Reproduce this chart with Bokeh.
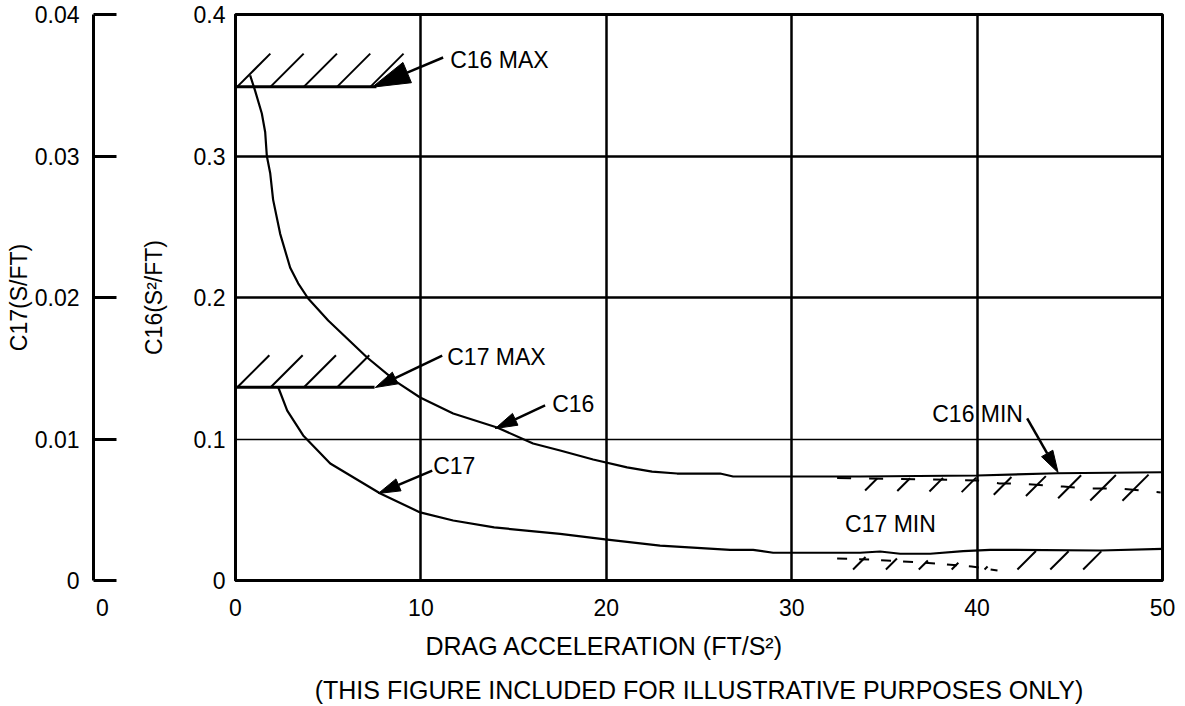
import numpy as np
from bokeh.plotting import figure
from bokeh.models import Range1d, FixedTicker, Grid, Label, Title
from bokeh.layouts import row
from bokeh.embed import file_html
from bokeh.resources import INLINE

FONT = "Liberation Sans"
FS = "23px"

# ---------------- data ----------------
x_ticks = [0, 10, 20, 30, 40, 50]
c16_ticks = [0, 0.1, 0.2, 0.3, 0.4]
c17_ticks = [0, 0.01, 0.02, 0.03, 0.04]

# C16 curve (S^2/FT) vs drag acceleration (FT/S^2)
c16_x = [0.79, 1.06, 1.42, 1.60, 1.69, 1.87, 2.03, 2.41, 2.95, 3.38, 3.92, 5.0,
         7.1, 8.72, 9.96, 11.74, 14.11, 16.05, 17.51, 19.29, 21.12, 22.47,
         23.82, 26.14, 26.84, 33.69, 40.0, 44.32, 50.0]
c16_y = [0.357, 0.346, 0.330, 0.317, 0.300, 0.288, 0.269, 0.245, 0.221, 0.210,
         0.1993, 0.1837, 0.1576, 0.140, 0.1293, 0.118, 0.1081, 0.0968, 0.0919,
         0.0855, 0.0799, 0.0770, 0.0756, 0.0756, 0.0735, 0.0735, 0.0742,
         0.0758, 0.0765]

# C17 curve (S/FT)
c17_x = [2.31, 2.79, 3.65, 5.11, 7.81, 9.96, 11.74, 13.95, 17.51, 19.94, 22.9,
         26.68, 27.92, 29.0, 33.69, 34.77, 35.85, 37.47, 39.25, 40.70, 46.64, 50.0]
c17_y = [0.01364, 0.0120, 0.01025, 0.00827, 0.00615, 0.00481, 0.00424, 0.00375,
         0.0033, 0.0029, 0.00247, 0.00217, 0.00217, 0.00196, 0.00196, 0.00205,
         0.00189, 0.00189, 0.00207, 0.00217, 0.00212, 0.00224]

# limits
c16_max_level = 0.349
c16_max_x = [0, 7.6]
c17_max_level = 0.01366
c17_max_x = [0, 7.5]

c16_min_x = [32.45, 37.47, 40.0, 41.2, 42.16, 44.64, 46.1, 47.72, 49.9]
c16_min_y = [0.0724, 0.0714, 0.0707, 0.0686, 0.0686, 0.0664, 0.0650, 0.0650, 0.0622]

c17_min_x = [32.45, 34.25, 37.8, 39.7, 41.1]
c17_min_y = [0.00155, 0.00148, 0.00120, 0.00099, 0.00071]

# ---------------- geometry / style ----------------
FRAME_W, FRAME_H = 927, 566
PX_X = 50 / FRAME_W
PX_Y16 = 0.4 / FRAME_H
PX_Y17 = 0.04 / FRAME_H
HATCH_STEP = 33.3 * PX_X


def style_axis(ax):
    ax.major_label_text_font = FONT
    ax.major_label_text_font_size = FS
    ax.major_label_text_color = "black"
    ax.axis_label_text_font = FONT
    ax.axis_label_text_font_size = FS
    ax.axis_label_text_font_style = "normal"
    ax.axis_label_text_color = "black"
    ax.minor_tick_line_color = None
    ax.minor_tick_out = 0
    ax.minor_tick_in = 0


# ---------------- left figure: C17 scale ----------------
pa = figure(width=123, height=706, x_range=Range1d(-0.3, 0.7), y_range=Range1d(0, 0.04),
            output_backend="svg", toolbar_location=None,
            min_border_left=93, min_border_right=0, min_border_top=14, min_border_bottom=126)
pa.outline_line_color = None
pa.xgrid.visible = False
pa.ygrid.visible = False
ya = pa.yaxis[0]
style_axis(ya)
ya.ticker = FixedTicker(ticks=c17_ticks)
ya.major_label_overrides = {0: "0"}
ya.axis_line_width = 3
ya.axis_line_color = "black"
ya.major_tick_line_width = 3
ya.major_tick_line_color = "black"
ya.major_tick_in = 23
ya.major_tick_out = 0
ya.major_label_standoff = 14
ya.axis_label = "C17(S/FT)"
ya.axis_label_standoff = 0
xa = pa.xaxis[0]
style_axis(xa)
xa.ticker = FixedTicker(ticks=[0])
xa.axis_line_color = None
xa.major_tick_line_color = None
xa.major_tick_out = 0
xa.major_tick_in = 0
xa.major_label_standoff = 18

# ---------------- main figure ----------------
p = figure(width=1062, height=706, x_range=Range1d(0, 50), y_range=Range1d(0, 0.4),
           output_backend="svg", toolbar_location=None,
           min_border_left=112, min_border_right=23, min_border_top=14, min_border_bottom=126)
p.extra_y_ranges = {"c17": Range1d(0, 0.04)}
p.outline_line_color = "black"
p.outline_line_width = 3

xax = p.xaxis[0]
style_axis(xax)
xax.ticker = FixedTicker(ticks=x_ticks)
xax.axis_line_width = 3
xax.major_tick_line_color = None
xax.major_tick_out = 0
xax.major_tick_in = 0
xax.major_label_standoff = 18

yax = p.yaxis[0]
style_axis(yax)
yax.ticker = FixedTicker(ticks=c16_ticks)
yax.major_label_overrides = {0: "0"}
yax.axis_line_width = 3
yax.major_tick_line_color = None
yax.major_tick_out = 0
yax.major_tick_in = 0
yax.major_label_standoff = 10
yax.axis_label = "C16(S²/FT)"
yax.axis_label_standoff = 24

p.xgrid.ticker = FixedTicker(ticks=[t for t in x_ticks if 0 < t < 50])
p.xgrid.grid_line_color = "black"
p.xgrid.grid_line_width = 2.5
p.ygrid.ticker = FixedTicker(ticks=[t for t in c16_ticks if 0.2 <= t < 0.4])
p.ygrid.grid_line_color = "black"
p.ygrid.grid_line_width = 2.5
thin = Grid(dimension=1, ticker=FixedTicker(ticks=[c16_ticks[1]]),
            grid_line_color="black", grid_line_width=1.5)
p.add_layout(thin)

# curves
p.line(c16_x, c16_y, line_color="black", line_width=2.2)
p.line(c17_x, c17_y, line_color="black", line_width=2.2, y_range_name="c17")

# MAX limit lines with hatching above
p.line(c16_max_x, [c16_max_level] * 2, line_color="black", line_width=3)
p.line(c17_max_x, [c17_max_level] * 2, line_color="black", line_width=3, y_range_name="c17")


def max_strokes(x_end, level, py, count, h=33):
    x0 = 0.1 + HATCH_STEP * np.arange(count)
    x0 = x0[x0 < x_end]
    return x0, np.full_like(x0, level), x0 + h * PX_X, np.full_like(x0, level + h * py)


hx0, hy0, hx1, hy1 = max_strokes(c16_max_x[1], c16_max_level, PX_Y16, 5)
p.segment(hx0, hy0, hx1, hy1, line_color="black", line_width=2)
hx0, hy0, hx1, hy1 = max_strokes(c17_max_x[1], c17_max_level, PX_Y17, 4, h=32)
p.segment(hx0, hy0, hx1, hy1, line_color="black", line_width=2, y_range_name="c17")

# MIN limit dashed lines with hatching below
p.line(c16_min_x, c16_min_y, line_color="black", line_width=2, line_dash="14 18")
p.line(c17_min_x, c17_min_y, line_color="black", line_width=2, line_dash="10 12",
       y_range_name="c17")

xb = np.arange(33.96, 48.5, 1.735)
top = np.interp(xb, c16_x, c16_y) - 2 * PX_Y16
bot = np.interp(xb, c16_min_x, c16_min_y) - 12 * PX_Y16
hpx = (top - bot) / PX_Y16
p.segment(xb, bot, xb + hpx * PX_X, top, line_color="black", line_width=2)

xb = np.arange(33.31, 46.5, 1.773)
bot = np.full_like(xb, 11 * PX_Y17)
top = np.where(xb <= c17_min_x[-1], np.interp(xb, c17_min_x, c17_min_y) + 2 * PX_Y17,
               np.interp(xb, c17_x, c17_y) - 1 * PX_Y17)
hpx = (top - bot) / PX_Y17
p.segment(xb, bot, xb + hpx * PX_X, top, line_color="black", line_width=2,
          y_range_name="c17")


# arrows (pointer lines with filled heads)
def draw_arrow(x0, y0, x1, y1, L, W):
    ax = (x1 - x0) / PX_X
    ay = (y1 - y0) / PX_Y16
    d = np.hypot(ax, ay)
    ux, uy = ax / d, ay / d
    nx, ny = -uy, ux
    bx, by = x1 - L * ux * PX_X, y1 - L * uy * PX_Y16
    c1 = (bx + nx * W / 2 * PX_X, by + ny * W / 2 * PX_Y16)
    c2 = (bx - nx * W / 2 * PX_X, by - ny * W / 2 * PX_Y16)
    p.line([x0, bx], [y0, by], line_color="black", line_width=2.5)
    p.patch([x1, c1[0], c2[0]], [y1, c1[1], c2[1]], fill_color="black", line_color="black",
            line_width=1)


draw_arrow(11.20, 0.3696, 7.37, 0.3486, 38, 22)
draw_arrow(11.15, 0.1590, 7.54, 0.1364, 22, 13)
draw_arrow(16.70, 0.1237, 14.01, 0.1074, 22, 13)
draw_arrow(10.61, 0.0777, 7.70, 0.0615, 22, 13)
draw_arrow(42.70, 0.1145, 44.37, 0.0763, 22, 13)

# text labels
for txt, lx, ly in [("C16 MAX", 11.58, 0.3678), ("C17 MAX", 11.42, 0.1583),
                    ("C16", 17.08, 0.1244), ("C17", 10.66, 0.0806),
                    ("C16 MIN", 37.58, 0.1177), ("C17 MIN", 32.88, 0.0396)]:
    p.add_layout(Label(x=lx, y=ly, text=txt, text_font=FONT, text_font_size=FS,
                       text_align="left", text_baseline="middle", text_color="black"))

x_title = Title(text="DRAG ACCELERATION (FT/S²)", align="left", offset=190, standoff=22,
                text_font=FONT, text_font_size="25px", text_font_style="normal",
                text_color="black")
p.add_layout(x_title, "below")
caption = Title(text="(THIS FIGURE INCLUDED FOR ILLUSTRATIVE PURPOSES ONLY)", align="center",
                standoff=6, text_font=FONT, text_font_size="25px", text_font_style="normal",
                text_color="black")
p.add_layout(caption, "below")

layout = row(pa, p)
open("out.html", "w").write(file_html(layout, INLINE))
